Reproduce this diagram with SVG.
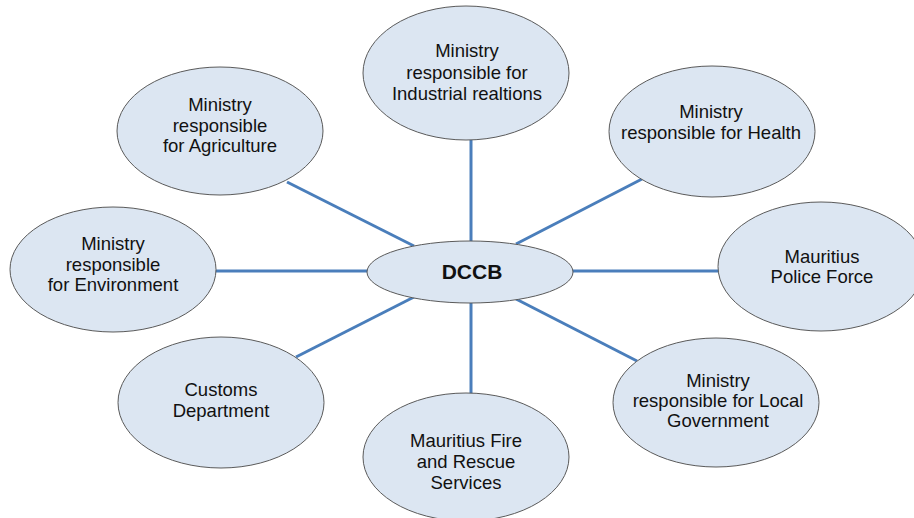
<svg xmlns="http://www.w3.org/2000/svg" width="914" height="518" viewBox="0 0 914 518">
  <style>
    .node ellipse { fill: #dce6f2; stroke: #5a5a5a; stroke-width: 1; }
    .node text { font-family: "Liberation Sans", Arial, sans-serif; font-size: 18.5px; fill: #111; text-anchor: middle; }
    .node text.hub { font-size: 21px; font-weight: bold; }
    .links line { stroke: #4a7ebb; stroke-width: 3; stroke-linecap: butt; }
  </style>
  <rect width="914" height="518" fill="#ffffff"/>

  <!-- spokes from DCCB to each body -->
  <g id="connectors" class="links">
    <line x1="471" y1="140" x2="471" y2="242"/>
    <line x1="471" y1="302" x2="471" y2="394"/>
    <line x1="215" y1="271" x2="368" y2="271"/>
    <line x1="572" y1="271" x2="719" y2="271"/>
    <line x1="287" y1="182" x2="414" y2="246"/>
    <line x1="516" y1="244" x2="642" y2="179"/>
    <line x1="414" y1="297" x2="296" y2="357"/>
    <line x1="516" y1="299" x2="637" y2="361"/>
  </g>

  <g id="industrial" class="node">
    <ellipse cx="466" cy="73" rx="103" ry="67"/>
    <text x="467" y="57">Ministry</text>
    <text x="467" y="79">responsible for</text>
    <text x="467" y="100">Industrial realtions</text>
  </g>

  <g id="agriculture" class="node">
    <ellipse cx="220" cy="131" rx="103" ry="64"/>
    <text x="220" y="111">Ministry</text>
    <text x="220" y="132">responsible</text>
    <text x="220" y="152">for Agriculture</text>
  </g>

  <g id="health" class="node">
    <ellipse cx="712" cy="131.5" rx="103" ry="65.5"/>
    <text x="711" y="118">Ministry</text>
    <text x="711" y="139">responsible for Health</text>
  </g>

  <g id="environment" class="node">
    <ellipse cx="113" cy="269.5" rx="103" ry="62.5"/>
    <text x="113" y="250">Ministry</text>
    <text x="113" y="271">responsible</text>
    <text x="113" y="291">for Environment</text>
  </g>

  <g id="police" class="node">
    <ellipse cx="821" cy="266.5" rx="103" ry="64.5"/>
    <text x="822" y="263">Mauritius</text>
    <text x="822" y="283">Police Force</text>
  </g>

  <g id="dccb" class="node">
    <ellipse cx="470" cy="272" rx="103" ry="31"/>
    <text class="hub" x="472" y="279">DCCB</text>
  </g>

  <g id="customs" class="node">
    <ellipse cx="221" cy="402.5" rx="103" ry="65.5"/>
    <text x="221" y="396">Customs</text>
    <text x="221" y="417">Department</text>
  </g>

  <g id="fire-rescue" class="node">
    <ellipse cx="466" cy="457" rx="103" ry="64"/>
    <text x="466" y="447">Mauritius Fire</text>
    <text x="466" y="468">and Rescue</text>
    <text x="466" y="489">Services</text>
  </g>

  <g id="local-government" class="node">
    <ellipse cx="716" cy="402.5" rx="103" ry="64.5"/>
    <text x="718" y="387">Ministry</text>
    <text x="718" y="407">responsible for Local</text>
    <text x="718" y="427">Government</text>
  </g>
</svg>
